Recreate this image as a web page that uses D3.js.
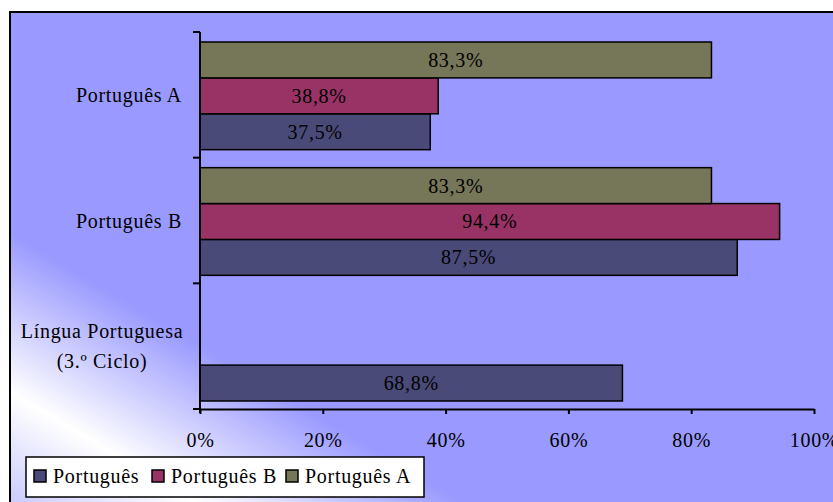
<!DOCTYPE html>
<html>

<head>
  <title>Português chart</title>
  <meta charset="UTF-8">
  <script src="https://d3js.org/d3.v7.min.js"></script>
  <style type="text/css">
    body { margin: 0; background: #fff; }
    text { font-family: "Liberation Serif", "Times New Roman", serif; fill: #000; letter-spacing: 0.7px; }
  </style>
</head>

<body>
  <script type="text/javascript">
    // chart data
    var categories = ['Português A', 'Português B', 'Língua Portuguesa|(3.º Ciclo)'];
    var seriesNames = ['Português', 'Português B', 'Português A'];
    var portugues = [37.5, 87.5, 68.8];
    var portuguesB = [38.8, 94.4, null];
    var portuguesA = [83.3, 83.3, null];
    var tickValues = [0, 20, 40, 60, 80, 100];
    var colors = ['#4a4a78', '#993366', '#767659'];

    var W = 833, H = 502;
    var svg = d3.select('body').append('svg')
      .attr('width', W)
      .attr('height', H);

    // background gradient (white towards the bottom-left corner)
    var grad = svg.append('defs').append('linearGradient')
      .attr('id', 'bg')
      .attr('x1', 0).attr('y1', 1).attr('x2', 1).attr('y2', 0);
    grad.append('stop').attr('offset', 0).attr('stop-color', '#c6c6ff');
    grad.append('stop').attr('offset', 0.12).attr('stop-color', '#ffffff');
    grad.append('stop').attr('offset', 0.28).attr('stop-color', '#9999ff');
    grad.append('stop').attr('offset', 1).attr('stop-color', '#9999ff');

    svg.append('rect')
      .attr('x', 10).attr('y', 12)
      .attr('width', 840).attr('height', 500)
      .attr('fill', 'url(#bg)')
      .attr('stroke', '#000')
      .attr('stroke-width', 2);

    // scales
    var x = d3.scaleLinear().domain([0, 100]).range([200, 814]);
    var y0 = d3.scaleBand().domain(categories).range([32, 409]).padding(0);
    var y1 = d3.scaleBand().domain(seriesNames.slice().reverse())
      .range([10, y0.bandwidth() - 8]).padding(0);

    var series = [portugues, portuguesB, portuguesA];

    // bars
    var groups = svg.append('g').selectAll('g')
      .data(categories)
      .join('g')
      .attr('transform', function (d) { return 'translate(0,' + y0(d) + ')'; });

    groups.each(function (cat, ci) {
      var g = d3.select(this);
      series.forEach(function (vals, si) {
        var v = vals[ci];
        if (v == null) return;
        g.append('rect')
          .attr('x', x(0))
          .attr('y', y1(seriesNames[si]))
          .attr('width', x(v) - x(0))
          .attr('height', y1.bandwidth())
          .attr('fill', colors[si])
          .attr('stroke', '#000')
          .attr('stroke-width', 1.5);
        g.append('text')
          .attr('x', (x(0) + x(v)) / 2)
          .attr('y', y1(seriesNames[si]) + y1.bandwidth() / 2)
          .attr('dy', '0.35em')
          .attr('text-anchor', 'middle')
          .style('font-size', '20px')
          .text(d3.format('.1f')(v).replace('.', ',') + '%');
      });
    });

    // x axis
    var xAxis = svg.append('g')
      .attr('transform', 'translate(0,409)')
      .call(d3.axisBottom(x).tickValues(tickValues).tickSize(5).tickSizeOuter(0)
        .tickPadding(19).tickFormat(function (d) { return d + '%'; }));
    xAxis.select('.domain').attr('stroke', '#000').attr('stroke-width', 2);
    xAxis.selectAll('.tick line').attr('stroke', '#000').attr('stroke-width', 2);
    xAxis.selectAll('text')
      .style('font-size', '20px')
      .style('font-family', '"Liberation Serif", serif');

    // y axis: line with ticks at category boundaries
    svg.append('line')
      .attr('x1', x(0)).attr('x2', x(0))
      .attr('y1', 32).attr('y2', 413)
      .attr('stroke', '#000').attr('stroke-width', 2);
    var bounds = categories.map(function (c) { return y0(c); }).concat([409]);
    svg.append('g').selectAll('line')
      .data(bounds)
      .join('line')
      .attr('x1', x(0) - 7).attr('x2', x(0))
      .attr('y1', function (d) { return d; })
      .attr('y2', function (d) { return d; })
      .attr('stroke', '#000').attr('stroke-width', 2);

    // category labels
    svg.append('g').selectAll('text')
      .data(categories)
      .join('text')
      .attr('text-anchor', function (d) { return d.indexOf('|') >= 0 ? 'middle' : 'end'; })
      .style('font-size', '20px')
      .each(function (d) {
        var lines = d.split('|');
        var cy = y0(d) + y0.bandwidth() / 2;
        var t = d3.select(this);
        if (lines.length === 1) {
          t.attr('x', 182).attr('y', cy + 7).text(d);
        } else {
          lines.forEach(function (l, i) {
            t.append('tspan')
              .attr('x', 102)
              .attr('y', cy - 8 + i * 30)
              .text(l);
          });
        }
      });

    // legend
    var legend = svg.append('g');
    legend.append('rect')
      .attr('x', 26).attr('y', 457)
      .attr('width', 398).attr('height', 40)
      .attr('fill', '#fff')
      .attr('stroke', '#000')
      .attr('stroke-width', 1.5);
    var legendX = [34, 152, 286];
    seriesNames.forEach(function (name, i) {
      legend.append('rect')
        .attr('x', legendX[i]).attr('y', 470)
        .attr('width', 12).attr('height', 12)
        .attr('fill', colors[i])
        .attr('stroke', '#000')
        .attr('stroke-width', 1.5);
      legend.append('text')
        .attr('x', legendX[i] + 19).attr('y', 483)
        .style('font-size', '20px')
        .text(name);
    });
  </script>
</body>

</html>
